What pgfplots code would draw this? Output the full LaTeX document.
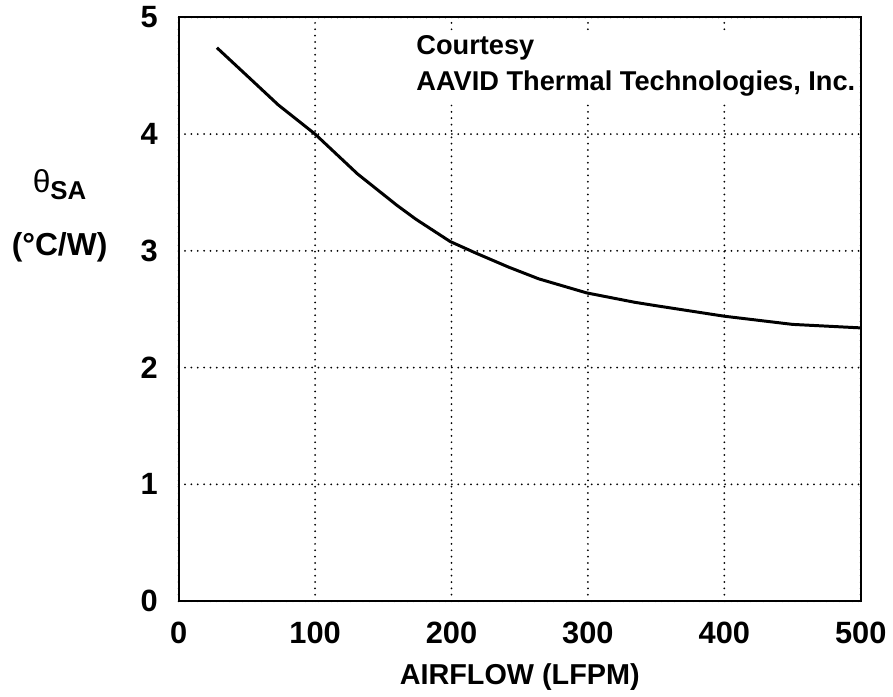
\documentclass[border=0pt]{standalone}
\usepackage{pgfplots}
\pgfplotsset{compat=1.18}
\usepackage{fontspec}
\setmainfont{Liberation Sans}
\begin{document}
\begin{tikzpicture}
\begin{axis}[
  scale only axis,
  width=343.5pt, height=294pt,
  xmin=0, xmax=500, ymin=0, ymax=5,
  xtick={0,100,200,300,400,500},
  ytick={0,1,2,3,4,5},
  major tick length=0pt,
  axis line style={line width=1pt},
  grid=major,
  major grid style={black, line width=1pt, line cap=round, dash pattern=on 0pt off 3.2pt},
  /pgf/number format/assume math mode=true,
  tick label style={font=\fontsize{15.5}{17}\selectfont\bfseries},
  xticklabel style={yshift=-7pt},
  yticklabel style={xshift=-7pt},
  xlabel={AIRFLOW (LFPM)},
  xlabel style={font=\fontsize{14.5}{16}\selectfont\bfseries, yshift=-3pt},
  clip=false,
]
\addplot[black, line width=1.5pt] coordinates {
(28,4.74) (51,4.49) (73,4.25) (100,4.00) (131,3.66) (160,3.39) (174,3.27)
(199,3.08) (218,2.98) (242,2.86) (264,2.76) (299,2.64) (334,2.56) (350,2.53)
(400,2.44) (450,2.37) (500,2.34)
};
\node[anchor=north west, align=left, fill=white, inner xsep=1pt, inner ysep=2pt, font=\fontsize{13.7}{18.5}\selectfont\bfseries]
  at ([shift={(-1pt,2pt)}]axis cs:174,4.85) {Courtesy\\AAVID Thermal Technologies, Inc.};
\node[align=center, inner sep=0pt, font=\fontsize{16}{32}\selectfont\bfseries]
  at ([xshift=-60pt]rel axis cs:0,0.66) {{\mdseries θ}\raisebox{-0.45ex}{\fontsize{13}{14}\selectfont SA}\\(°C/W)};
\end{axis}
\path[use as bounding box] ([shift={(-90pt,-43pt)}]current axis.south west) rectangle ([shift={(13pt,7.5pt)}]current axis.north east);
\end{tikzpicture}
\end{document}
